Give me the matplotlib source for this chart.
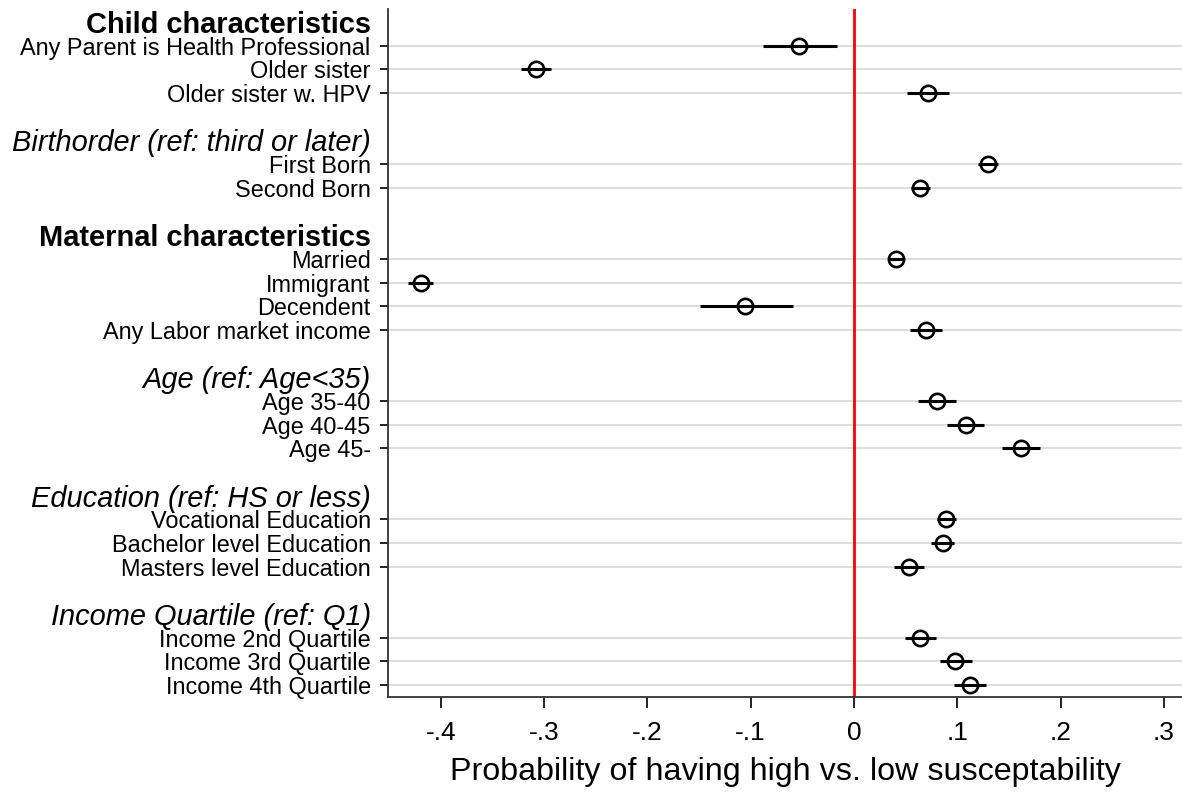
import matplotlib
matplotlib.use("Agg")
import matplotlib.pyplot as plt
from matplotlib import font_manager

# ---- data ----
group_titles = ["Child characteristics", "Birthorder (ref: third or later)",
                "Maternal characteristics", "Age (ref: Age<35)",
                "Education (ref: HS or less)", "Income Quartile (ref: Q1)"]
group_bold = [True, False, True, False, False, False]
variables = ["Any Parent is Health Professional", "Older sister", "Older sister w. HPV",
             "First Born", "Second Born",
             "Married", "Immigrant", "Decendent", "Any Labor market income",
             "Age 35-40", "Age 40-45", "Age 45-",
             "Vocational Education", "Bachelor level Education", "Masters level Education",
             "Income 2nd Quartile", "Income 3rd Quartile", "Income 4th Quartile"]
var_group = [0, 0, 0, 1, 1, 2, 2, 2, 2, 3, 3, 3, 4, 4, 4, 5, 5, 5]
estimate = [-0.053, -0.308, 0.072, 0.130, 0.064, 0.041, -0.419, -0.105, 0.070,
            0.080, 0.108, 0.162, 0.089, 0.086, 0.053, 0.064, 0.098, 0.112]
ci_low = [-0.088, -0.322, 0.051, 0.120, 0.055, 0.033, -0.432, -0.149, 0.054,
          0.062, 0.090, 0.143, 0.080, 0.075, 0.039, 0.049, 0.083, 0.097]
ci_high = [-0.016, -0.293, 0.092, 0.139, 0.074, 0.048, -0.407, -0.059, 0.085,
           0.099, 0.126, 0.180, 0.099, 0.097, 0.068, 0.079, 0.114, 0.128]
x_ticks = [-0.4, -0.3, -0.2, -0.1, 0, 0.1, 0.2, 0.3]
x_ticklabels = ["-.4", "-.3", "-.2", "-.1", "0", ".1", ".2", ".3"]
x_label = "Probability of having high vs. low susceptability"

# ---- fonts ----
avail = {f.name for f in font_manager.fontManager.ttflist}
sans = "Liberation Sans" if "Liberation Sans" in avail else "DejaVu Sans"
plt.rcParams["font.family"] = [sans, "DejaVu Sans"]

# ---- row positions ----
row_pos, row_text, row_is_header = [], [], []
var_rows = []
r = 0
for g, title in enumerate(group_titles):
    if g > 0:
        r += 1  # blank row
    row_pos.append(r); row_text.append(title); row_is_header.append(g)
    r += 1
    for i, v in enumerate(variables):
        if var_group[i] == g:
            row_pos.append(r); row_text.append(v); row_is_header.append(None)
            var_rows.append(r)
            r += 1
n_rows = r

fig = plt.figure(figsize=(11.82, 7.94), dpi=100)
ax = fig.add_axes([388 / 1182, 1 - 697 / 794, 1 - 388 / 1182, (697 - 9) / 794])

ax.set_xlim(-0.451, 0.3175)
ax.set_ylim(n_rows - 0.5, -0.55)

ax.axvline(0, color="#ff0000", lw=2.0, zorder=2)

ax.hlines(var_rows, ci_low, ci_high, color="black", lw=2.2, zorder=3)
ax.plot(estimate, var_rows, linestyle="none", marker="o", markersize=11,
        markerfacecolor="none", markeredgecolor="black", markeredgewidth=1.9, zorder=4)

ax.set_yticks(row_pos)
ax.set_yticklabels(row_text)
ax.grid(axis="y", color="#d4d4d4", lw=1.1, zorder=0)
ax.grid(axis="x", visible=False)
for tick, hdr in zip(ax.yaxis.get_major_ticks(), row_is_header):
    lab = tick.label1
    if hdr is None:
        lab.set_fontsize(16.9)
    else:
        tick.tick1line.set_visible(False)
        tick.gridline.set_visible(False)
        lab.set_fontsize(20.9)
        if group_bold[hdr]:
            lab.set_fontweight("bold")
        else:
            lab.set_fontstyle("italic")

ax.tick_params(axis="y", length=6, width=1.2, pad=6.5, colors="black")
ax.set_xticks(x_ticks)
ax.set_xticklabels(x_ticklabels, fontsize=19)
ax.tick_params(axis="x", length=8, width=1.2, pad=9.5)
ax.set_xlabel(x_label, fontsize=23.2, labelpad=8.5)

for s in ["top", "right"]:
    ax.spines[s].set_visible(False)
for s in ["left", "bottom"]:
    ax.spines[s].set_linewidth(1.3)
    ax.spines[s].set_color("#333333")

fig.savefig("out.png", dpi=100)
